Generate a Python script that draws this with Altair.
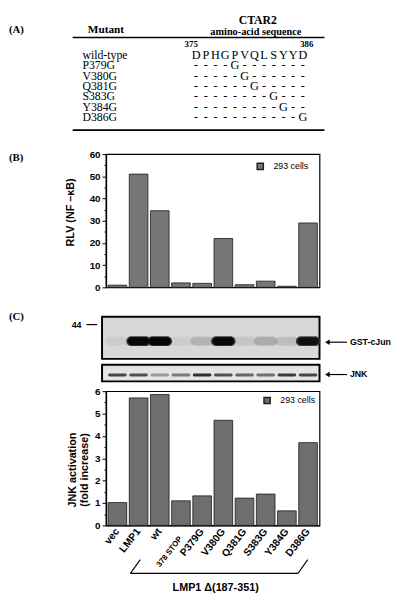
import altair as alt
import pandas as pd

SANS = "Liberation Sans"
SERIF = "Liberation Serif"

# ---------------- data ----------------
lanes = ["vec", "LMP1", "wt", "378 STOP", "P379G", "V380G", "Q381G", "S383G", "Y384G", "D386G"]
nfkb = [1.0, 51.0, 34.5, 2.0, 1.8, 22.0, 1.2, 2.8, 0.5, 29.0]
jnk_act = [1.02, 5.7, 5.85, 1.1, 1.32, 4.7, 1.22, 1.4, 0.65, 3.7]
gst_band = [0.03, 0.95, 1.0, 0.03, 0.1, 0.95, 0.05, 0.12, 0.07, 0.85]
jnk_band = [0.75, 0.7, 0.35, 0.5, 0.85, 0.7, 0.6, 0.55, 0.8, 0.75]
series = "293 cells"

mutants = ["wild-type", "P379G", "V380G", "Q381G", "S383G", "Y384G", "D386G"]
wild_seq = list("DPHGPVQLSYYD")
mut_pos = [None, 4, 5, 6, 8, 9, 11]

W = 218
one = pd.DataFrame({"k": [0]})


def label(text, x, y, size=11, weight="bold", font=SANS, align="center", baseline="middle"):
    return alt.Chart(one).mark_text(
        text=text, font=font, fontSize=size, fontWeight=weight,
        align=align, baseline=baseline, fill="black"
    ).encode(x=alt.value(x), y=alt.value(y))


def seg(x, x2, y, y2, w=1.2):
    return alt.Chart(one).mark_rule(color="black", strokeWidth=w).encode(
        x=alt.value(x), x2=alt.value(x2), y=alt.value(y), y2=alt.value(y2))


# ---------------- panel A ----------------
seq_rows = []
for r, name in enumerate(mutants):
    for j, aa in enumerate(wild_seq):
        ch = aa if r == 0 else ("G" if j == mut_pos[r] else "-")
        seq_rows.append({"row": r, "pos": j, "ch": ch})
seq_df = pd.DataFrame(seq_rows)
name_df = pd.DataFrame({"row": list(range(len(mutants))), "name": mutants})

ys_a = alt.Scale(domain=[0, 6], range=[41, 104])
xs_a = alt.Scale(domain=[0, 11], range=[92, 201])

seq_text = alt.Chart(seq_df).mark_text(font=SERIF, fontSize=12.5, fill="black").encode(
    x=alt.X("pos:Q", scale=xs_a, axis=None),
    y=alt.Y("row:Q", scale=ys_a, axis=None),
    text="ch:N")
name_text = alt.Chart(name_df).mark_text(font=SERIF, fontSize=12, align="left", fill="black").encode(
    x=alt.value(-24),
    y=alt.Y("row:Q", scale=ys_a, axis=None),
    text="name:N")

panelA = alt.layer(
    label("(A)", -99, 15, size=11, font=SERIF, align="left"),
    label("Mutant", 0, 15, size=11.5, font=SERIF),
    label("CTAR2", 155, 0, size=12, font=SERIF, baseline="top"),
    label("amino-acid sequence", 153, 17.5, size=10.5, font=SERIF),
    seg(-34, 223, 23, 23, 1.6),
    label("375", 87, 30, size=9, font=SERIF),
    label("386", 205, 30, size=9, font=SERIF),
    seq_text, name_text,
    seg(-34, 223, 117.5, 117.5, 1.6),
).properties(width=W, height=118, view=alt.ViewBackground(stroke=None))

# ---------------- panel B ----------------
xband = alt.Scale(domain=lanes, paddingInner=0.12, paddingOuter=0.1)
axis_style = dict(domainColor="black", domainWidth=1.4, tickColor="black", tickWidth=1,
                  labelFont=SANS, labelFontWeight="bold", labelColor="black",
                  titleFont=SANS, titleFontWeight="bold", titleFontSize=11, titleColor="black",
                  grid=False)


def legend(x, y):
    return alt.Legend(orient="none", legendX=x, legendY=y, title=None,
                      symbolType="square", symbolFillColor="#222", symbolStrokeColor="#222",
                      symbolSize=40, labelOffset=9,
                      labelFont=SANS, labelFontSize=9, labelColor="black")


bdf = pd.DataFrame({"lane": lanes, "v": nfkb, "s": [series] * len(lanes)})
barsB = alt.Chart(bdf).mark_bar(stroke="#1a1a1a", strokeWidth=0.8).encode(
    x=alt.X("lane:N", scale=xband, sort=lanes, axis=None),
    y=alt.Y("v:Q", scale=alt.Scale(domain=[0, 60], nice=False),
            axis=alt.Axis(values=list(range(0, 61, 5)),
                          labelExpr="datum.value % 10 == 0 ? datum.label : ''",
                          tickSize={"condition": {"test": "datum.value % 10 === 0", "value": 4}, "value": 2},
                          labelPadding=2, labelFontSize=10,
                          title="RLV (NF \u2013\u03baB)", titlePadding=14, titleY=59,
                          **axis_style)),
    color=alt.Color("s:N", scale=alt.Scale(range=["#767676"]), legend=legend(153, 8)))

panelB = alt.layer(
    barsB,
    label("(B)", -99, 4, size=11, font=SERIF, align="left"),
).properties(width=W, height=136, view=alt.ViewBackground(stroke="black", strokeWidth=1.2))

# ---------------- panel C ----------------
cdf = pd.DataFrame({"lane": lanes, "v": jnk_act, "gst": gst_band, "jnk": jnk_band,
                    "s": [series] * len(lanes)})
xC = alt.X("lane:N", scale=xband, sort=lanes, title=None,
           axis=alt.Axis(labelAngle=-52, ticks=False,
                         labelPadding={"condition": {"test": "datum.value === '378 STOP'", "value": 12}, "value": 4},
                         labelFontSize={"condition": {"test": "datum.value === '378 STOP'", "value": 8}, "value": 10.5},
                         **axis_style))

barsC = alt.Chart(cdf).mark_bar(stroke="#1a1a1a", strokeWidth=0.8).encode(
    x=xC,
    y=alt.Y("v:Q", scale=alt.Scale(domain=[0, 6], nice=False),
            axis=alt.Axis(values=[i / 2 for i in range(13)],
                          labelExpr="datum.value % 1 == 0 ? format(datum.value, 'd') : ''",
                          tickSize={"condition": {"test": "datum.value % 1 === 0", "value": 4}, "value": 2},
                          labelPadding=2, labelFontSize=10,
                          title=["JNK activation", "(fold increase)"],
                          titlePadding=5, titleY=80, **axis_style)),
    color=alt.Color("s:N", scale=alt.Scale(range=["#6e6e6e"]), legend=legend(160, 5)))

gel_bg = alt.Chart(one).mark_rect(fill="#d8d8d8", stroke="black", strokeWidth=2).encode(
    x=alt.value(-4), x2=alt.value(W), y=alt.value(-76), y2=alt.value(-33))
gst_halo = alt.Chart(cdf).mark_bar(width=25, cornerRadius=5, color="#333").encode(
    x=xC, y=alt.value(-56), y2=alt.value(-46),
    opacity=alt.Opacity("gst:Q", scale=None, legend=None))
gst_core = alt.Chart(cdf).mark_bar(width=22, cornerRadius=4, color="#050505").encode(
    x=xC, y=alt.value(-55), y2=alt.value(-47),
    opacity=alt.Opacity("gst:Q", scale=None, legend=None))
jnk_bg = alt.Chart(one).mark_rect(fill="#e4e4e4", stroke="black", strokeWidth=2).encode(
    x=alt.value(-4), x2=alt.value(W), y=alt.value(-27), y2=alt.value(-10))
jnk_bands = alt.Chart(cdf).mark_bar(width=19, cornerRadius=1.5, color="#111").encode(
    x=xC, y=alt.value(-18), y2=alt.value(-15),
    opacity=alt.Opacity("jnk:Q", scale=None, legend=None))

arrow_gst = alt.Chart(one).mark_point(shape="triangle-left", filled=True, size=30, color="black",
                                      opacity=1).encode(x=alt.value(226), y=alt.value(-50))
arrow_jnk = alt.Chart(one).mark_point(shape="triangle-left", filled=True, size=30, color="black",
                                      opacity=1).encode(x=alt.value(226), y=alt.value(-17))

panelC = alt.layer(
    barsC,
    gel_bg, gst_halo, gst_core, jnk_bg, jnk_bands,
    label("(C)", -99, -76, size=11, font=SERIF, align="left"),
    label("44", -35, -68, size=9, align="left"),
    seg(-20, -9, -68, -68, 1.2),
    seg(226, 246, -50, -50, 1.2), arrow_gst,
    label("GST-cJun", 249, -50, size=9, align="left"),
    seg(226, 246, -17, -17, 1.2), arrow_jnk,
    label("JNK", 249, -17, size=9, align="left"),
    seg(25, 35, 186, 172, 1.1),
    seg(25, 196, 186, 186, 1.1),
    seg(196, 206, 186, 172, 1.1),
    label("LMP1  \u0394(187-351)", 112, 201, size=11),
).properties(width=W, height=137, view=alt.ViewBackground(stroke="black", strokeWidth=1.2))

chart = alt.vconcat(panelA, panelB, panelC, spacing=17).properties(
    padding={"left": 0, "top": 0, "right": 0, "bottom": 0}
).resolve_scale(color="independent", x="independent", y="independent").configure(background="white")

chart.save("out.html", embed_options={"renderer": "svg", "actions": False})
